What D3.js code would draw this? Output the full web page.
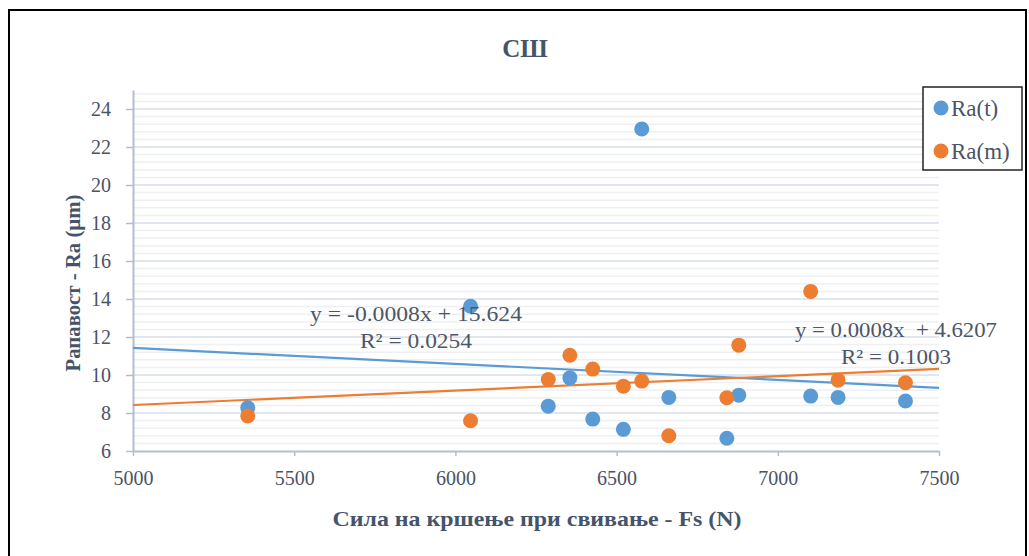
<!DOCTYPE html>
<html>
<head>
<meta charset="utf-8">
<script src="https://cdn.jsdelivr.net/npm/d3@7"></script>
<style>
  body { margin: 0; background: #fff; }
  svg text { font-family: "Liberation Serif", "Times New Roman", serif; }
</style>
</head>
<body>
<div id="chart"></div>
<script>
// podatoci procitani od slikata
var sila = [5356, 6047, 6288, 6355, 6426, 6521, 6578, 6662, 6842, 6879, 7102, 7187, 7396];
var raT = [8.27, 13.62, 8.36, 9.85, 7.68, 7.14, 22.95, 8.82, 6.67, 8.94, 8.89, 8.82, 8.63];
var raM = [7.84, 7.59, 9.76, 11.04, 10.31, 9.41, 9.68, 6.80, 8.80, 11.57, 14.40, 9.73, 9.59];
var serii = ["Ra(t)", "Ra(m)"];
var boi = ["#5B9BD5", "#ED7D31"];
// trend linii (naklon, presek)
var nakloni = [-0.00084, 0.00076];
var preseci = [15.624, 4.6207];
var ravenki = ["y = -0.0008x + 15.624", "y = 0.0008x  + 4.6207"];
var r2 = ["R² = 0.0254", "R² = 0.1003"];
var xTicks = [5000, 5500, 6000, 6500, 7000, 7500];
var yTicks = [6, 8, 10, 12, 14, 16, 18, 20, 22, 24];

var W = 1029, H = 556;
var m = {left: 133, right: 1029 - 939, top: 90, bottom: 556 - 451};

var svg = d3.select("#chart").append("svg")
    .attr("width", W).attr("height", H);

// ramka
svg.append("rect")
    .attr("x", 9).attr("y", 10)
    .attr("width", 1017).attr("height", 600)
    .attr("fill", "none").attr("stroke", "#000").attr("stroke-width", 2);

var x = d3.scaleLinear().domain([5000, 7500]).range([m.left, W - m.right]);
var y = d3.scaleLinear().domain([6, 25]).range([H - m.bottom, m.top]);

// mrezni linii
var minor = d3.range(6.4, 25, 0.4).filter(function(v) { return Math.abs(v / 2 - Math.round(v / 2)) > 0.01; });
svg.append("g").selectAll("line").data(minor).enter().append("line")
    .attr("x1", x(5000)).attr("x2", x(7500))
    .attr("y1", function(d) { return y(d); }).attr("y2", function(d) { return y(d); })
    .attr("stroke", "#eef0f4").attr("stroke-width", 1.5);
svg.append("g").selectAll("line").data(yTicks.slice(1)).enter().append("line")
    .attr("x1", x(5000)).attr("x2", x(7500))
    .attr("y1", function(d) { return y(d); }).attr("y2", function(d) { return y(d); })
    .attr("stroke", "#d9dee8").attr("stroke-width", 1.5);

// oski
var axColor = "#b4bdd0";
var gx = svg.append("g").attr("transform", "translate(0," + y(6) + ")")
    .call(d3.axisBottom(x).tickValues(xTicks).tickSize(5).tickSizeOuter(0).tickPadding(15).tickFormat(d3.format("d")));
var gy = svg.append("g").attr("transform", "translate(" + x(5000) + ",0)")
    .call(d3.axisLeft(y).tickValues(yTicks).tickSize(7).tickSizeOuter(0).tickPadding(15));
[gx, gy].forEach(function(g) {
    g.select(".domain").attr("stroke", axColor).attr("stroke-width", 2);
    g.selectAll(".tick line").attr("stroke", axColor).attr("stroke-width", 1.5);
    g.selectAll(".tick text").attr("fill", "#4a5466").style("font-size", "20px")
        .style("font-family", "'Liberation Serif', 'Times New Roman', serif");
});

// trend linii
serii.forEach(function(s, i) {
    var linija = d3.line()
        .x(function(d) { return x(d); })
        .y(function(d) { return y(nakloni[i] * d + preseci[i]); });
    svg.append("path").datum([5000, 7500])
        .attr("d", linija)
        .attr("fill", "none").attr("stroke", boi[i]).attr("stroke-width", 2.2);
});

// tocki
var nizi = [raT, raM];
nizi.forEach(function(niz, i) {
    svg.append("g").selectAll("circle").data(niz).enter().append("circle")
        .attr("cx", function(d, j) { return x(sila[j]); })
        .attr("cy", function(d) { return y(d); })
        .attr("r", 7.5)
        .attr("fill", boi[i]);
});

// ravenki
var ravPoz = [[416, 313], [896, 329]];
var ravSir = [[212, 112], [202, 110]];
serii.forEach(function(s, i) {
    svg.append("text").attr("x", ravPoz[i][0]).attr("y", ravPoz[i][1]).attr("dy", "0.35em")
        .attr("text-anchor", "middle").attr("fill", "#4d5666").style("font-size", "22px")
        .attr("textLength", ravSir[i][0]).attr("lengthAdjust", "spacingAndGlyphs")
        .style("white-space", "pre")
        .text(ravenki[i]);
    svg.append("text").attr("x", ravPoz[i][0]).attr("y", ravPoz[i][1] + 27).attr("dy", "0.35em")
        .attr("text-anchor", "middle").attr("fill", "#4d5666").style("font-size", "22px")
        .attr("textLength", ravSir[i][1]).attr("lengthAdjust", "spacingAndGlyphs")
        .text(r2[i]);
});

// naslov
svg.append("text").attr("x", 525).attr("y", 48).attr("dy", "0.35em")
    .attr("text-anchor", "middle").attr("fill", "#44546a")
    .style("font-size", "25px").style("font-weight", "bold")
    .text("СШ");

// naslovi na oski
svg.append("text").attr("x", 537).attr("y", 518).attr("dy", "0.35em")
    .attr("text-anchor", "middle").attr("fill", "#44546a")
    .style("font-size", "22px").style("font-weight", "bold")
    .attr("textLength", 409).attr("lengthAdjust", "spacingAndGlyphs")
    .text("Сила на кршење при свивање - Fs (N)");
svg.append("text")
    .attr("transform", "translate(72,283) rotate(-90)")
    .attr("dy", "0.35em")
    .attr("text-anchor", "middle").attr("fill", "#44546a")
    .style("font-size", "22px").style("font-weight", "bold")
    .attr("textLength", 177).attr("lengthAdjust", "spacingAndGlyphs")
    .text("Рапавост - Ra (µm)");

// legenda
var leg = svg.append("g");
leg.append("rect").attr("x", 923).attr("y", 87).attr("width", 99).attr("height", 83)
    .attr("fill", "#fff").attr("stroke", "#222").attr("stroke-width", 1.5);
serii.forEach(function(s, i) {
    leg.append("circle").attr("cx", 941).attr("cy", 108 + i * 43).attr("r", 7.5).attr("fill", boi[i]);
    leg.append("text").attr("x", 951).attr("y", 108 + i * 43).attr("dy", "0.35em")
        .attr("fill", "#4a5466").style("font-size", "23px").text(s);
});
</script>
</body>
</html>
